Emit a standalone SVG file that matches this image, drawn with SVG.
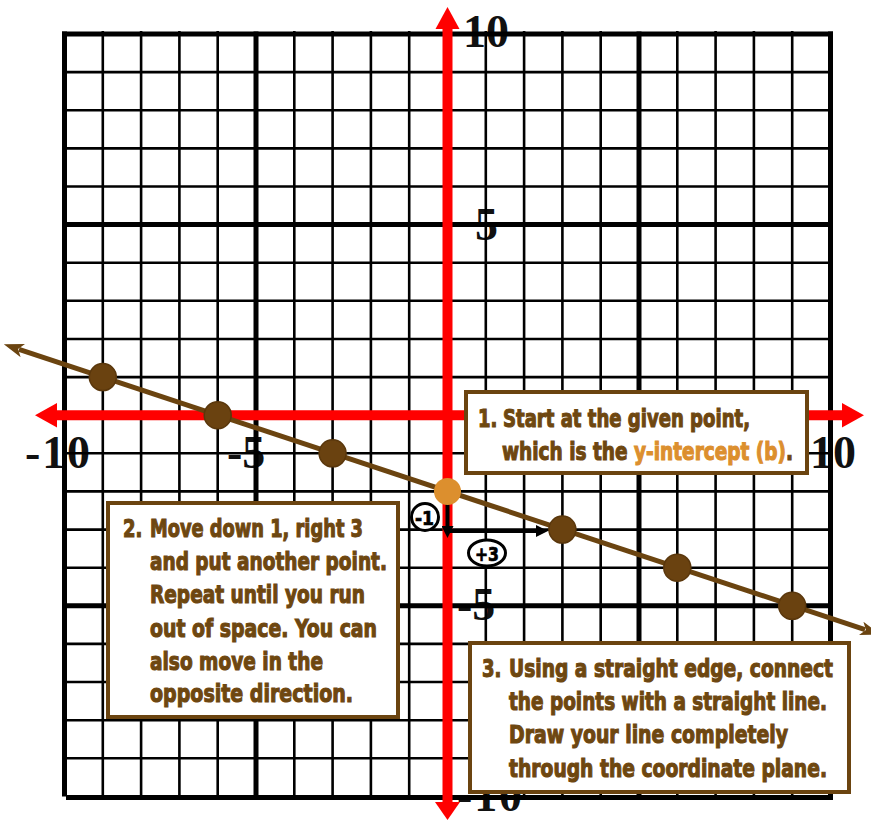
<svg xmlns="http://www.w3.org/2000/svg" width="871" height="821" viewBox="0 0 871 821">
<style>
.thin{stroke:#000;stroke-width:2.6;fill:none}
.thick{stroke:#000;stroke-width:5;fill:none}
.axis{stroke:#ff0000;stroke-width:10;fill:none}
.red{fill:#ff0000}
.num{font-family:"Liberation Serif","Times New Roman",serif;font-weight:bold;font-size:46px;fill:#111}
.box{fill:#fff;stroke:#6b4410;stroke-width:4}
.t{font-family:"DejaVu Sans Condensed","DejaVu Sans",sans-serif;font-stretch:condensed;font-weight:bold;font-size:25px;fill:#6e4710;stroke:#6e4710;stroke-width:1.1}
.hl{fill:#dc8f2e;stroke:#dc8f2e}
.pt{fill:#6a4210;stroke:#5a370c;stroke-width:1.5}
.brown{stroke:#6b4410;stroke-width:5;fill:none}
.blk{stroke:#000;stroke-width:4;fill:none}
.mk{fill:#fff;stroke:#000;stroke-width:3}
.mt{font-family:"DejaVu Sans Condensed","DejaVu Sans",sans-serif;font-stretch:condensed;font-weight:bold;font-size:20px;fill:#000;stroke:#000;stroke-width:0.7}
</style>
<defs>
<marker id="bh" viewBox="0 0 20 14" refX="4" refY="7" markerWidth="20" markerHeight="14" markerUnits="userSpaceOnUse" orient="auto-start-reverse">
<path d="M0,0 L20,7 L0,14 L5,7 Z" fill="#6b4410"/>
</marker>
<marker id="ah" viewBox="0 0 12 12" refX="2" refY="6" markerWidth="12" markerHeight="12" markerUnits="userSpaceOnUse" orient="auto">
<path d="M0,0 L12,6 L0,12 Z" fill="#000"/>
</marker>
</defs>
<rect width="871" height="821" fill="#fff"/>
<g id="axis-labels">
<text class="num" x="463" y="47">10</text>
<text class="num" x="475" y="240">5</text>
<text class="num" x="25" y="468" textLength="65" lengthAdjust="spacing">-10</text>
<text class="num" x="227" y="468">-5</text>
<text class="num" x="810" y="468">10</text>
<text class="num" x="457" y="620">-5</text>
<text class="num" x="457" y="811" textLength="65" lengthAdjust="spacing">-10</text>
</g>
<g id="grid">
<path class="thin" d="M102.8,31V799M141.1,31V799M179.4,31V799M217.7,31V799M294.3,31V799M332.6,31V799M370.9,31V799M409.2,31V799M485.8,31V799M524.1,31V799M562.4,31V799M600.7,31V799M677.3,31V799M715.6,31V799M753.9,31V799M792.2,31V799"/>
<path class="thin" d="M62,72.1H833M62,110.2H833M62,148.4H833M62,186.5H833M62,262.7H833M62,300.8H833M62,339H833M62,377.1H833M62,453.3H833M62,491.4H833M62,529.6H833M62,567.7H833M62,643.9H833M62,682H833M62,720.2H833M62,758.3H833"/>
<path class="thick" d="M64.5,31.5V796.4M256,31.5V799M447.5,31.5V799M639,31.5V799M830.5,31.5V799"/>
<path class="thick" d="M62,34H833M62,224.6H833M62,415.2H833M62,605.8H833M66,797.5H833"/>
</g>
<g id="axes">
<path class="axis" d="M447.5,28V803M56,415.2H843"/>
<polygon class="red" points="447.5,7 435.5,29 459.5,29"/>
<polygon class="red" points="447.5,820 435,802 460,802"/>
<polygon class="red" points="35,415.2 57,403 57,427.4"/>
<polygon class="red" points="864,415.2 842,403 842,427.4"/>
</g>
<g id="connectors">
<line class="brown" x1="19" y1="349.3" x2="865" y2="629.6" marker-start="url(#bh)" marker-end="url(#bh)"/>
<line class="blk" x1="447.5" y1="504" x2="447.5" y2="528" marker-end="url(#ah)"/>
<line class="blk" x1="447.5" y1="531" x2="538" y2="531" marker-end="url(#ah)"/>
</g>
<g id="points">
<circle class="pt" cx="102.8" cy="377.1" r="13.5"/>
<circle class="pt" cx="217.7" cy="415.2" r="13.5"/>
<circle class="pt" cx="332.6" cy="453.3" r="13.5"/>
<circle cx="447.5" cy="491.4" r="13.5" fill="#dc8f2e"/>
<circle class="pt" cx="562.4" cy="529.6" r="13.5"/>
<circle class="pt" cx="677.3" cy="567.7" r="13.5"/>
<circle class="pt" cx="792.2" cy="605.8" r="13.5"/>
</g>
<g id="step-minus1">
<circle class="mk" cx="425" cy="517" r="13.5"/>
<text class="mt" x="415" y="524.5" textLength="19" lengthAdjust="spacingAndGlyphs">-1</text>
</g>
<g id="step-plus3">
<ellipse class="mk" cx="487" cy="553" rx="18.5" ry="13"/>
<text class="mt" x="475" y="560.5" textLength="24" lengthAdjust="spacingAndGlyphs">+3</text>
</g>
<g id="box1">
<rect class="box" x="466" y="392" width="341" height="81"/>
<text class="t" transform="translate(478,427) scale(0.8,1)">1.</text>
<text class="t" transform="translate(503,427) scale(0.8,1)" textLength="308.75" lengthAdjust="spacingAndGlyphs">Start at the given point,</text>
<text class="t" transform="translate(502,460) scale(0.8,1)" textLength="363.75" lengthAdjust="spacingAndGlyphs">which is the <tspan class="hl">y-intercept (b)</tspan>.</text>
</g>
<g id="box2">
<rect class="box" x="108" y="503" width="290" height="214"/>
<text class="t" transform="translate(123,537) scale(0.8,1)">2.</text>
<text class="t" transform="translate(150,537) scale(0.8,1)" textLength="266.25" lengthAdjust="spacingAndGlyphs">Move down 1, right 3</text>
<text class="t" transform="translate(150,570) scale(0.8,1)" textLength="296.25" lengthAdjust="spacingAndGlyphs">and put another point.</text>
<text class="t" transform="translate(150,603) scale(0.8,1)" textLength="268.75" lengthAdjust="spacingAndGlyphs">Repeat until you run</text>
<text class="t" transform="translate(150,637) scale(0.8,1)" textLength="283.75" lengthAdjust="spacingAndGlyphs">out of space.  You can</text>
<text class="t" transform="translate(150,670) scale(0.8,1)" textLength="216.25" lengthAdjust="spacingAndGlyphs">also move in the</text>
<text class="t" transform="translate(150,702) scale(0.8,1)" textLength="253.75" lengthAdjust="spacingAndGlyphs">opposite direction.</text>
</g>
<g id="box3">
<rect class="box" x="470" y="643" width="379" height="149"/>
<text class="t" transform="translate(482,677) scale(0.8,1)">3.</text>
<text class="t" transform="translate(509,677) scale(0.8,1)" textLength="405" lengthAdjust="spacingAndGlyphs">Using a straight edge, connect</text>
<text class="t" transform="translate(509,710) scale(0.8,1)" textLength="397.5" lengthAdjust="spacingAndGlyphs">the points with a straight line.</text>
<text class="t" transform="translate(509,743) scale(0.8,1)" textLength="348.75" lengthAdjust="spacingAndGlyphs">Draw your line completely</text>
<text class="t" transform="translate(509,777) scale(0.8,1)" textLength="397.5" lengthAdjust="spacingAndGlyphs">through the coordinate plane.</text>
</g>
</svg>
